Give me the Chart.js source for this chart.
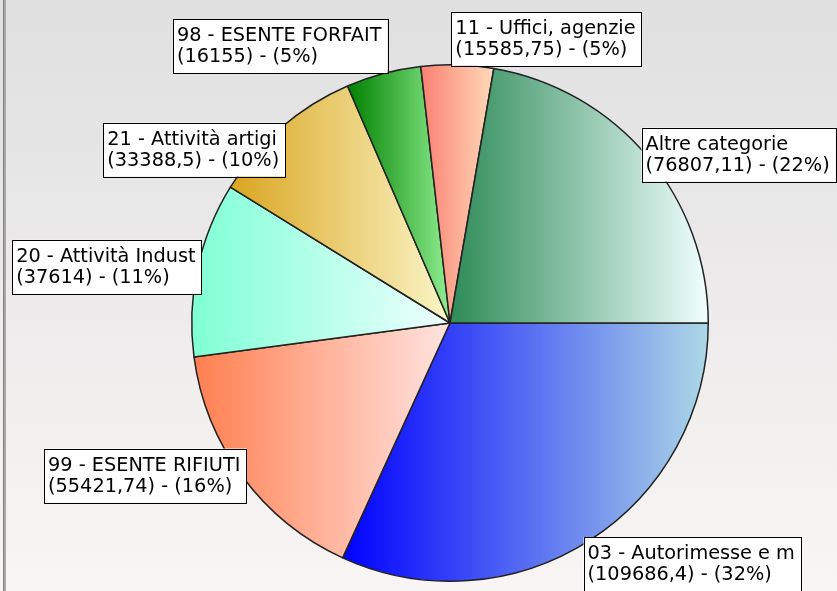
<!DOCTYPE html>
<html>
<head>
<meta charset="utf-8">
<script src="https://cdn.jsdelivr.net/npm/chart.js@4.4.1/dist/chart.umd.min.js"></script>
<style>
    html, body { margin: 0; padding: 0; background: #fff; }
    canvas { display: block; }
</style>
</head>
<body>
<canvas id="pieChart" width="837" height="591"></canvas>
<script>
// Data
const categories = ['03 - Autorimesse e m', '99 - ESENTE RIFIUTI', '20 - Attività Indust', '21 - Attività artigi', '98 - ESENTE FORFAIT', '11 - Uffici, agenzie', 'Altre categorie'];
const values = [109686.4, 55421.74, 37614, 33388.5, 16155, 15585.75, 76807.11];

// Slice gradients (left colour -> right colour)
const colorsFrom = ['#0000ff', '#ff7f50', '#7fffd4', '#daa520', '#008000', '#fa8072', '#2e8b57'];
const colorsTo = ['#add8e6', '#ffe4e1', '#f0ffff', '#faf6c8', '#90ee90', '#ffdab9', '#f0ffff'];

// Label box vertical shift from the slice's outer point
const labelShift = [-3, -28, -29, -5, -54, -53, -29];

document.addEventListener('DOMContentLoaded', function() {
    const canvas = document.getElementById('pieChart');
    const total = values.reduce((a, b) => a + b, 0);

    // Background: grey to off-white, with a thin left frame
    const backgroundPlugin = {
        id: 'panelBackground',
        beforeDraw(chart) {
            const ctx = chart.ctx;
            const g = ctx.createLinearGradient(0, 0, 0, chart.height);
            g.addColorStop(0, '#e0e0e0');
            g.addColorStop(1, '#f9f5f5');
            ctx.save();
            ctx.fillStyle = g;
            ctx.fillRect(0, 0, chart.width, chart.height);
            ctx.fillStyle = '#808080';
            ctx.fillRect(3, 0, 1, chart.height);
            ctx.fillStyle = '#a8a8a8';
            ctx.fillRect(4, 0, 2, chart.height);
            ctx.restore();
        }
    };

    // Horizontal gradient across each slice's own bounding box
    const gradientPlugin = {
        id: 'sliceGradient',
        beforeDatasetsDraw(chart) {
            const ctx = chart.ctx;
            chart.getDatasetMeta(0).data.forEach((arc, i) => {
                const p = arc.getProps(['x', 'y', 'startAngle', 'endAngle', 'outerRadius'], true);
                const xs = [p.x, p.x + p.outerRadius * Math.cos(p.startAngle), p.x + p.outerRadius * Math.cos(p.endAngle)];
                for (let k = -4; k <= 4; k++) {
                    const a = k * Math.PI;
                    if (a >= p.startAngle && a <= p.endAngle) xs.push(p.x + p.outerRadius * Math.cos(a));
                }
                const g = ctx.createLinearGradient(Math.min(...xs), 0, Math.max(...xs), 0);
                g.addColorStop(0, colorsFrom[i]);
                g.addColorStop(1, colorsTo[i]);
                arc.options.backgroundColor = g;
            });
        }
    };

    // Boxed labels next to each slice
    const labelPlugin = {
        id: 'boxLabels',
        afterDatasetsDraw(chart) {
            const ctx = chart.ctx;
            ctx.save();
            ctx.font = '19.3px "DejaVu Sans"';
            ctx.textBaseline = 'alphabetic';
            chart.getDatasetMeta(0).data.forEach((arc, i) => {
                const p = arc.getProps(['x', 'y', 'startAngle', 'endAngle', 'outerRadius'], true);
                const mid = (p.startAngle + p.endAngle) / 2;
                const px = p.x + p.outerRadius * Math.cos(mid);
                const py = p.y + p.outerRadius * Math.sin(mid);

                const pct = Math.round(values[i] / total * 100);
                const line1 = categories[i];
                const line2 = '(' + String(values[i]).replace('.', ',') + ') - (' + pct + '%)';
                const w = Math.max(ctx.measureText(line1).width, ctx.measureText(line2).width) + 10;
                const h = 54;

                const left = Math.cos(mid) >= 0 ? px - 6 : px + 4 - w;
                const top = py + labelShift[i];

                ctx.fillStyle = '#ffffff';
                ctx.fillRect(left, top, w, h);
                ctx.strokeStyle = '#000000';
                ctx.lineWidth = 1;
                ctx.strokeRect(Math.round(left) + 0.5, Math.round(top) + 0.5, Math.round(w), h);
                ctx.fillStyle = '#000000';
                ctx.fillText(line1, left + 4, top + 22);
                ctx.fillText(line2, left + 4, top + 43);
            });
            ctx.restore();
        }
    };

    new Chart(canvas.getContext('2d'), {
        type: 'pie',
        data: {
            labels: categories,
            datasets: [{
                data: values,
                backgroundColor: colorsFrom,
                borderColor: '#222222',
                borderWidth: 1.5
            }]
        },
        options: {
            responsive: false,
            animation: false,
            rotation: 90,
            layout: {
                padding: { left: 191, right: 128, top: 64, bottom: 9 }
            },
            plugins: {
                legend: { display: false },
                tooltip: { enabled: false }
            }
        },
        plugins: [backgroundPlugin, gradientPlugin, labelPlugin]
    });
});
</script>
</body>
</html>
